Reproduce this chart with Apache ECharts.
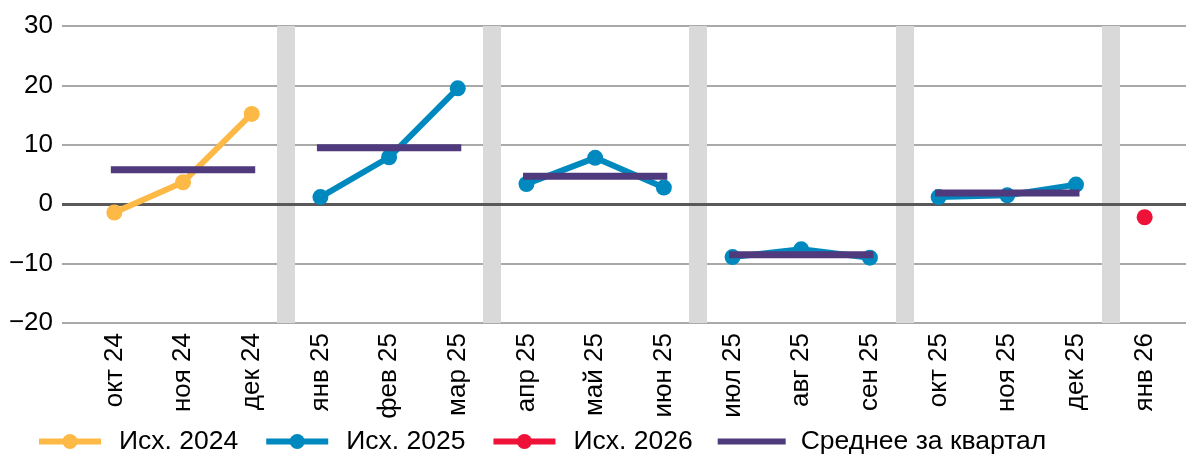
<!DOCTYPE html>
<html>
<head>
<meta charset="utf-8">
<script src="https://cdn.jsdelivr.net/npm/echarts@6/dist/echarts.min.js"></script>
<style>
  html, body { margin: 0; padding: 0; background: #fff; }
  #chart { width: 1186px; height: 455px; }
</style>
</head>
<body>
<div id="chart"></div>
<script>
// категории (месяцы)
var months = ["окт 24", "ноя 24", "дек 24", "янв 25", "фев 25", "мар 25", "апр 25", "май 25",
  "июн 25", "июл 25", "авг 25", "сен 25", "окт 25", "ноя 25", "дек 25", "янв 26"];
var ref2024 = [-1.4, 3.7, 15.2, null, null, null, null, null, null, null, null, null, null, null, null, null];
var ref2025 = [null, null, null, 1.2, 7.9, 19.5, 3.4, 7.8, 2.8, -8.9, -7.6, -9.0, 1.2, 1.5, 3.3, null];
var ref2026 = [null, null, null, null, null, null, null, null, null, null, null, null, null, null, null, -2.2];
// среднее за квартал (по кварталам)
var quarterAvg = [5.8, 9.5, 4.7, -8.5, 1.9];
// границы кварталов (в индексах категорий)
var separators = [3, 6, 9, 12, 15];
var yTicks = { min: -20, max: 30, interval: 10 };

var FONT = "'Liberation Sans', Arial, sans-serif";
var C2024 = "#FDB945", C2025 = "#0089BE", C2026 = "#EE1238", CAVG = "#4F3A7D";

// разбиваем ряд по кварталам, чтобы линия рвалась между ними
function quarterSlice(values, q) {
  return values.map(function (v, i) { return Math.floor(i / 3) === q ? v : null; });
}

var series = [];

// серые разделители кварталов
series.push({
  type: "line", xAxisIndex: 2, yAxisIndex: 1, data: [], silent: true,
  markLine: {
    z: 1, silent: true, symbol: ["none", "none"], animation: false,
    label: { show: false },
    lineStyle: { color: "#d9d9d9", width: 18, type: "solid" },
    emphasis: { disabled: true },
    data: separators.map(function (x) { return { xAxis: x }; })
  }
});

// нулевая линия
series.push({
  type: "line", xAxisIndex: 0, yAxisIndex: 0, data: [], silent: true,
  markLine: {
    z: 2, silent: true, symbol: ["none", "none"], animation: false,
    label: { show: false },
    lineStyle: { color: "#595959", width: 3, type: "solid" },
    emphasis: { disabled: true },
    data: [{ yAxis: 0 }]
  }
});

function lineSeries(name, data, color) {
  return {
    name: name, type: "line", xAxisIndex: 1, yAxisIndex: 1, z: 3,
    data: data, connectNulls: false,
    symbol: "circle", symbolSize: 16, showAllSymbol: true,
    itemStyle: { color: color },
    lineStyle: { color: color, width: 6 }
  };
}

series.push(lineSeries("Исх. 2024", ref2024, C2024));
for (var q = 1; q < 5; q++) {
  series.push(lineSeries("Исх. 2025", quarterSlice(ref2025, q), C2025));
}
series.push(lineSeries("Исх. 2026", ref2026, C2026));

quarterAvg.forEach(function (avg, q) {
  var d = months.map(function (m, i) { return Math.floor(i / 3) === q ? avg : null; });
  series.push({
    name: "Среднее за квартал", type: "line", xAxisIndex: 1, yAxisIndex: 1, z: 4,
    data: d, symbol: "none", showSymbol: false,
    itemStyle: { color: CAVG },
    lineStyle: { color: CAVG, width: 7, cap: "square" }
  });
});

var chart = echarts.init(document.getElementById("chart"));
chart.setOption({
  animation: false,
  textStyle: { fontFamily: FONT },
  grid: [
    { left: 62, right: 0, top: 26, height: 297 },
    { left: 80, width: 1099, top: 26, height: 297 }
  ],
  xAxis: [
    { type: "value", gridIndex: 0, min: 0, max: 1, show: false },
    {
      type: "category", gridIndex: 1, data: months, boundaryGap: true,
      axisLine: { show: false }, axisTick: { show: false },
      axisLabel: { rotate: 90, margin: 10, fontSize: 26, color: "#000", fontFamily: FONT, interval: 0 }
    },
    { type: "value", gridIndex: 1, min: 0, max: 16, show: false }
  ],
  yAxis: [
    {
      type: "value", gridIndex: 0, min: yTicks.min, max: yTicks.max, interval: yTicks.interval,
      axisLine: { show: false }, axisTick: { show: false },
      axisLabel: {
        fontSize: 26, color: "#000", margin: 9, fontFamily: FONT,
        formatter: function (v) { return v < 0 ? "\u2212" + Math.abs(v) : String(v); }
      },
      splitLine: { lineStyle: { color: "#8c8c8c", width: 1.5 } }
    },
    { type: "value", gridIndex: 1, min: yTicks.min, max: yTicks.max, interval: yTicks.interval, show: false, splitLine: { show: false } }
  ],
  legend: {
    data: [
      "Исх. 2024", "Исх. 2025", "Исх. 2026",
      { name: "Среднее за квартал", itemStyle: { opacity: 0 } }
    ],
    left: 31, top: 423,
    itemWidth: 62, itemHeight: 19, itemGap: 25,
    lineStyle: { width: 6 },
    textStyle: { fontSize: 26.5, color: "#000", fontFamily: FONT, padding: [0, 0, 0, 13] },
    selectedMode: false
  },
  series: series
});
</script>
</body>
</html>
